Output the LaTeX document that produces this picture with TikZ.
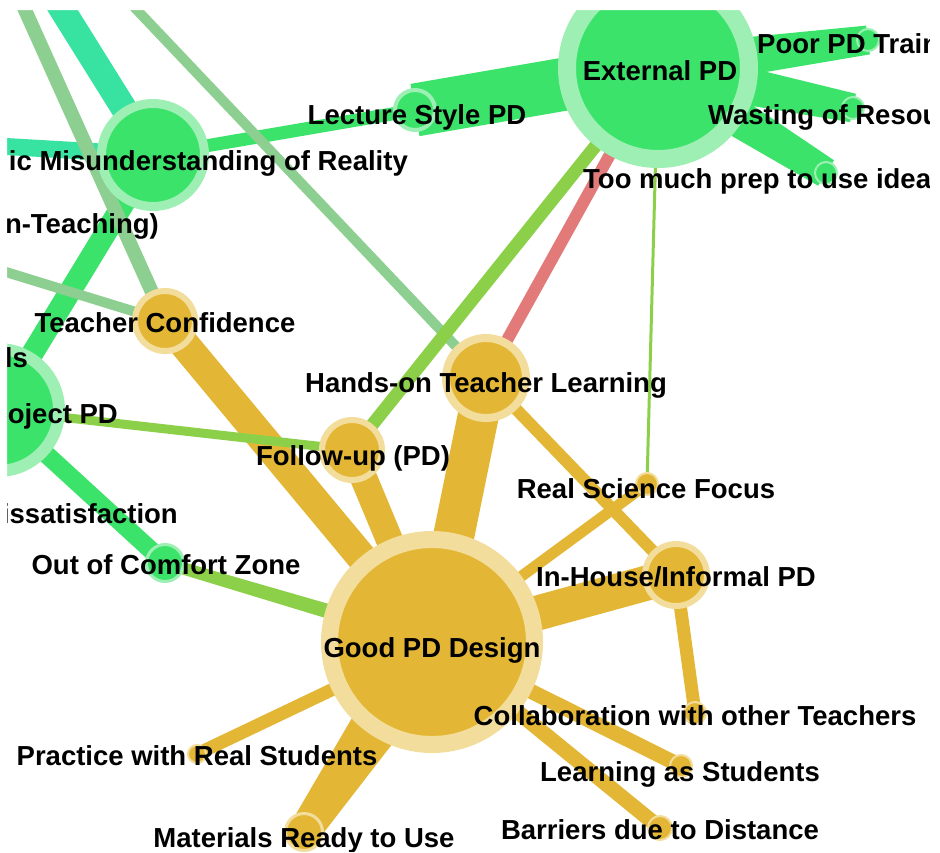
\documentclass[tikz,border=0pt]{standalone}
\usepackage{fontspec}
\setmainfont{Liberation Sans}
\usetikzlibrary{calc}
\definecolor{gfill}{HTML}{3BE36B}
\definecolor{gring}{HTML}{9DEFB4}
\definecolor{yfill}{HTML}{E3B735}
\definecolor{yring}{HTML}{F3DD9C}
\definecolor{tealE}{HTML}{38E3A2}
\definecolor{ggE}{HTML}{8DCF90}
\definecolor{ygE}{HTML}{8CD04A}
\definecolor{redE}{HTML}{E27A79}
\newcommand\lblfont{\fontsize{27.5}{30}\selectfont\bfseries}
\newcommand\tedge[5]{%
  \fill[#5] ($(#1.center)!#3!90:(#2.center)$) -- ($(#2.center)!#4!-90:(#1.center)$)
    -- ($(#2.center)!#4!90:(#1.center)$) -- ($(#1.center)!#3!-90:(#2.center)$) -- cycle;}
\pgfdeclarelayer{edges}
\pgfsetlayers{edges,main}
\tikzset{
  gn/.style n args={2}{circle,inner sep=0pt,fill=gfill,draw=gring,line width=#2,minimum size=#1},
  yn/.style n args={2}{circle,inner sep=0pt,fill=yfill,draw=yring,line width=#2,minimum size=#1},
  lbl/.style={font=\lblfont,inner sep=0pt,anchor=base,text=black},
  lble/.style={lbl,anchor=base east},
  lblw/.style={lbl,anchor=base west},
}
\begin{document}
\begin{tikzpicture}[x=1pt,y=-1pt]
\useasboundingbox (0,0) rectangle (940,852);
% nodes
\node[gn={182pt}{18pt}] (ext) at (658,68) {};
\node[yn={205pt}{17pt}] (good) at (432,642) {};
\node[yn={80pt}{8pt}] (hands) at (486,378) {};
\node[gn={103pt}{9pt}] (stat) at (153,155) {};
\node[gn={122pt}{12pt}] (proj) at (-2,410) {};
\node[yn={60pt}{6pt}] (tconf) at (165,321) {};
\node[yn={60pt}{6pt}] (follow) at (352,450) {};
\node[yn={62pt}{6pt}] (inhouse) at (676,575) {};
\node[gn={40pt}{4pt}] (lecture) at (415,110) {};
\node[gn={37pt}{3pt}] (comfort) at (165,563) {};
\node[yn={22pt}{2pt}] (realsci) at (647,484) {};
\node[yn={22pt}{2pt}] (collab) at (695,713) {};
\node[yn={22pt}{2pt}] (learning) at (681,766) {};
\node[yn={24pt}{2pt}] (barriers) at (660,828) {};
\node[yn={18pt}{2pt}] (practice) at (197,754) {};
\node[yn={37pt}{3pt}] (materials) at (304,832) {};
\node[gn={22pt}{2pt}] (poor) at (868,40) {};
\node[gn={22pt}{2pt}] (wasting) at (853,108) {};
\node[gn={22pt}{2pt}] (toomuch) at (826,173) {};
% free ends
\coordinate (tealtop) at (50,-10);
\coordinate (tealleft) at (-20,145);
\coordinate (ggtop1) at (118,-10);
\coordinate (ggtop2) at (16,-10);
\coordinate (ggleft) at (-20,264);
\begin{pgfonlayer}{edges}
\fill[white] (0,0) rectangle (940,852);
% teal
\draw[tealE,line width=26pt] (tealtop.center) -- (stat.center);
\draw[tealE,line width=17pt] (tealleft.center) -- (stat.center);
% bright green
\draw[gfill,line width=53pt] (ext.center) -- (lecture.center);
\tedge{ext}{poor}{22pt}{14.5pt}{gfill}
\tedge{ext}{wasting}{22pt}{14.5pt}{gfill}
\tedge{ext}{toomuch}{22pt}{15pt}{gfill}
\draw[gfill,line width=13pt] (stat.center) -- (lecture.center);
\draw[gfill,line width=22pt] (stat.center) -- (proj.center);
\draw[gfill,line width=18pt] (proj.center) -- (comfort.center);
% grey green
\draw[ggE,line width=10pt] (ggtop1.center) -- (hands.center);
\draw[ggE,line width=14pt] (ggtop2.center) -- (tconf.center);
\draw[ggE,line width=10pt] (ggleft.center) -- (tconf.center);
% yellow
\draw[yfill,line width=30pt] (tconf.center) -- (good.center);
\draw[yfill,line width=27pt] (follow.center) -- (good.center);
\draw[yfill,line width=41pt] (hands.center) -- (good.center);
\draw[yfill,line width=35pt] (inhouse.center) -- (good.center);
\draw[yfill,line width=11pt] (realsci.center) -- (good.center);
\draw[yfill,line width=12pt] (hands.center) -- (inhouse.center);
\draw[yfill,line width=13pt] (inhouse.center) -- (collab.center);
\draw[yfill,line width=15pt] (good.center) -- (learning.center);
\draw[yfill,line width=15pt] (good.center) -- (barriers.center);
\draw[yfill,line width=13pt] (good.center) -- (practice.center);
\tedge{good}{materials}{31pt}{16pt}{yfill}
% yellow green
\tedge{comfort}{good}{6pt}{8pt}{ygE}
\draw[ygE,line width=9pt] (proj.center) -- (follow.center);
\draw[ygE,line width=13pt] (follow.center) -- (ext.center);
\draw[ygE,line width=3pt] (ext.center) -- (realsci.center);
% red
\draw[redE,line width=12pt] (hands.center) -- (ext.center);
\end{pgfonlayer}
% labels
\node[lbl] (ext-l) at (660,80) {External PD};
\node[lblw] (poor-l) at (757,53) {Poor PD Training};
\node[lblw] (wasting-l) at (708,124) {Wasting of Resources};
\node[lblw] (toomuch-l) at (583,188) {Too much prep to use ideas};
\node[lbl] (lecture-l) at (417,124) {Lecture Style PD};
\node[lble] (stat-l) at (408,170) {ic Misunderstanding of Reality};
\node[lble] (teach-l) at (159,233) {n-Teaching)};
\node[lbl] (tconf-l) at (165,332) {Teacher Confidence};
\node[lble] (ls-l) at (28,367) {ls};
\node[lble] (proj-l) at (118,423) {oject PD};
\node[lbl] (hands-l) at (486,392) {Hands-on Teacher Learning};
\node[lbl] (follow-l) at (353,465) {Follow-up (PD)};
\node[lble] (diss-l) at (178,523) {issatisfaction};
\node[lbl] (realsci-l) at (646,498) {Real Science Focus};
\node[lbl] (inhouse-l) at (676,586) {In-House/Informal PD};
\node[lbl] (comfort-l) at (166,574) {Out of Comfort Zone};
\node[lbl] (good-l) at (432,657) {Good PD Design};
\node[lbl] (collab-l) at (695,725) {Collaboration with other Teachers};
\node[lbl] (practice-l) at (197,765) {Practice with Real Students};
\node[lbl] (learning-l) at (680,781) {Learning as Students};
\node[lbl] (materials-l) at (304,847) {Materials Ready to Use};
\node[lbl] (barriers-l) at (660,839) {Barriers due to Distance};
% white margin mask
\fill[white,even odd rule] (-200,-200) rectangle (1140,1052) (7,10) rectangle (930,852);
\end{tikzpicture}
\end{document}
